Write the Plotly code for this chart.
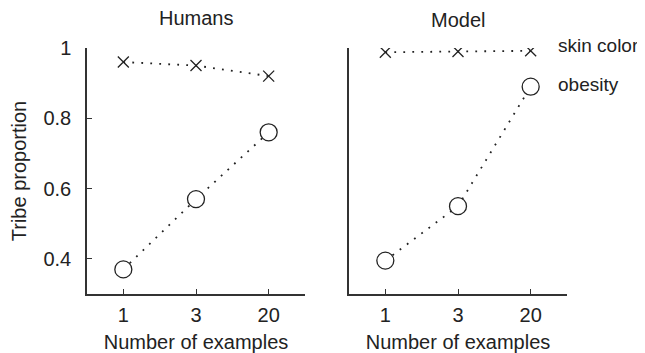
import plotly.graph_objects as go

categories = ["1", "3", "20"]
humans_skin = [0.96, 0.95, 0.92]
humans_obesity = [0.37, 0.57, 0.76]
model_skin = [0.988, 0.99, 0.992]
model_obesity = [0.395, 0.55, 0.89]
panel_titles = ["Humans", "Model"]
series_names = ["skin color", "obesity"]
y_ticks = [0.4, 0.6, 0.8, 1.0]
y_tick_text = ["0.4", "0.6", "0.8", "1"]

FONT = "Liberation Sans, Arial, sans-serif"
INK = "#222222"
AX = "#333333"
FS = 20
DOTS = "1.8px,7.2px"

# page body has an 8px margin; figure is sized to fill the rest of the window
OFF = 8
W, H = 645 - OFF, 353 - OFF


def px(x):
    return (x - OFF) / W


def py(y):
    return 1 - (y - OFF) / H


fig = go.Figure()


def add_panel(skin, obesity, xa, ya):
    for vals in (skin, obesity):
        fig.add_trace(go.Scatter(
            x=categories, y=vals, xaxis=xa, yaxis=ya, mode="lines",
            line=dict(color=INK, width=1.8, dash=DOTS),
            showlegend=False, hoverinfo="skip"))
    fig.add_trace(go.Scatter(
        x=categories, y=skin, xaxis=xa, yaxis=ya, mode="markers",
        marker=dict(symbol="x-thin-open", size=11, color=INK, line=dict(color=INK, width=1.3)),
        showlegend=False, name=series_names[0]))
    fig.add_trace(go.Scatter(
        x=categories, y=obesity, xaxis=xa, yaxis=ya, mode="markers",
        marker=dict(symbol="circle", size=17, color="white", line=dict(color=INK, width=1.3)),
        showlegend=False, name=series_names[1]))


add_panel(humans_skin, humans_obesity, "x", "y")
add_panel(model_skin, model_obesity, "x2", "y2")

ydom = [py(294), py(48)]
xcommon = dict(type="category", range=[-0.5, 2.5], showline=True, linecolor=AX, linewidth=1.5,
               ticks="inside", ticklen=5, tickcolor=AX, tickwidth=1.2, showgrid=False, zeroline=False,
               automargin=False,
               tickfont=dict(family=FONT, size=FS, color=INK), ticklabelstandoff=2,
               title=dict(text="Number of examples", font=dict(family=FONT, size=FS, color=INK), standoff=11))
ycommon = dict(range=[0.3, 1.0], showline=True, linecolor=AX, linewidth=1.5, showgrid=False,
               zeroline=False, domain=ydom, automargin=False)

fig.update_layout(
    width=W, height=H,
    margin=dict(l=0, r=0, t=0, b=0, autoexpand=False),
    paper_bgcolor="white", plot_bgcolor="white",
    font=dict(family=FONT, size=FS, color=INK),
    xaxis=dict(domain=[px(87), px(305)], anchor="y", **xcommon),
    xaxis2=dict(domain=[px(349), px(567)], anchor="y2", **xcommon),
    yaxis=dict(anchor="x", ticks="inside", ticklen=5, tickcolor=AX, tickwidth=1.2,
               tickvals=y_ticks, ticktext=y_tick_text, ticklabelstandoff=10,
               tickfont=dict(family=FONT, size=FS, color=INK),
               title=dict(text="Tribe proportion", font=dict(family=FONT, size=FS, color=INK), standoff=12),
               **ycommon),
    yaxis2=dict(anchor="x2", ticks="", showticklabels=False, **ycommon),
)

ann_font = dict(family=FONT, size=FS, color=INK)
leg_font = dict(family=FONT, size=19, color=INK)
fig.add_annotation(text=panel_titles[0], x=px(196), y=py(18), xref="paper", yref="paper",
                   showarrow=False, xanchor="center", yanchor="middle", font=ann_font)
fig.add_annotation(text=panel_titles[1], x=px(458), y=py(20), xref="paper", yref="paper",
                   showarrow=False, xanchor="center", yanchor="middle", font=ann_font)
fig.add_annotation(text=series_names[0], x=px(556), y=py(45), xref="paper", yref="paper",
                   showarrow=False, xanchor="left", yanchor="middle", font=leg_font)
fig.add_annotation(text=series_names[1], x=px(556), y=py(85), xref="paper", yref="paper",
                   showarrow=False, xanchor="left", yanchor="middle", font=leg_font)

fig.write_html("out.html")
